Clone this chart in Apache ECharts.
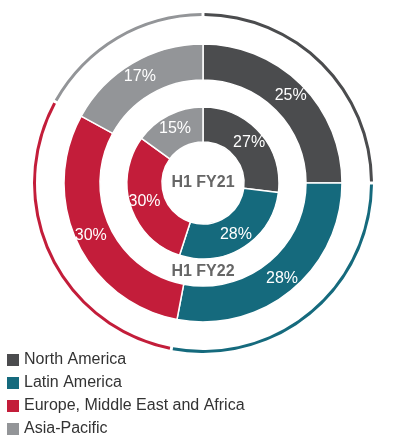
<!DOCTYPE html>
<html><head><meta charset="utf-8">
<script src="https://cdn.jsdelivr.net/npm/echarts@6/dist/echarts.min.js"></script>
<style>html,body{margin:0;background:#fff}#c{width:416px;height:443px}</style>
</head><body><div id="c"></div>
<script>
const regions = ["North America", "Latin America", "Europe, Middle East and Africa", "Asia-Pacific"];
const colors = ["#4b4c4e", "#156a7d", "#c31d3a", "#939598"];
const fy21 = [27, 28, 30, 15];
const fy22 = [25, 28, 30, 17];
const font = "'Liberation Sans Narrow', 'Liberation Sans', sans-serif";

const toData = (vals) => vals.map((v, i) => ({ name: regions[i], value: v }));
const center = [203, 183];

const chart = echarts.init(document.getElementById("c"));
chart.setOption({
  color: colors,
  animation: false,
  legend: {
    orient: "vertical", left: 2, top: 347, itemGap: 7,
    itemWidth: 12, itemHeight: 12, icon: "rect",
    textStyle: { fontFamily: font, fontSize: 16, color: "#333" },
    data: regions,
  },
  graphic: [
    { type: "text", x: center[0], y: center[1], style: { text: "H1 FY21", fontFamily: font, fontSize: 16, fontWeight: "bold", fill: "#666", align: "center", verticalAlign: "middle" } },
    { type: "text", x: center[0], y: 272, style: { text: "H1 FY22", fontFamily: font, fontSize: 16, fontWeight: "bold", fill: "#666", align: "center", verticalAlign: "middle" } },
  ],
  series: [
    {
      type: "pie", center, radius: [167, 170], startAngle: 90, clockwise: true,
      padAngle: 1, label: { show: false }, silent: true, data: toData(fy22),
    },
    {
      type: "pie", center, radius: [103, 139], startAngle: 90,
      itemStyle: { borderColor: "#fff", borderWidth: 1.5 },
      label: { position: "inside", formatter: "{c}%", color: "#fff", fontFamily: font, fontSize: 16 },
      data: toData(fy22),
    },
    {
      type: "pie", center, radius: [41, 76], startAngle: 90,
      itemStyle: { borderColor: "#fff", borderWidth: 1.5 },
      label: { position: "inside", formatter: "{c}%", color: "#fff", fontFamily: font, fontSize: 16 },
      data: toData(fy21),
    },
  ],
});
</script></body></html>
